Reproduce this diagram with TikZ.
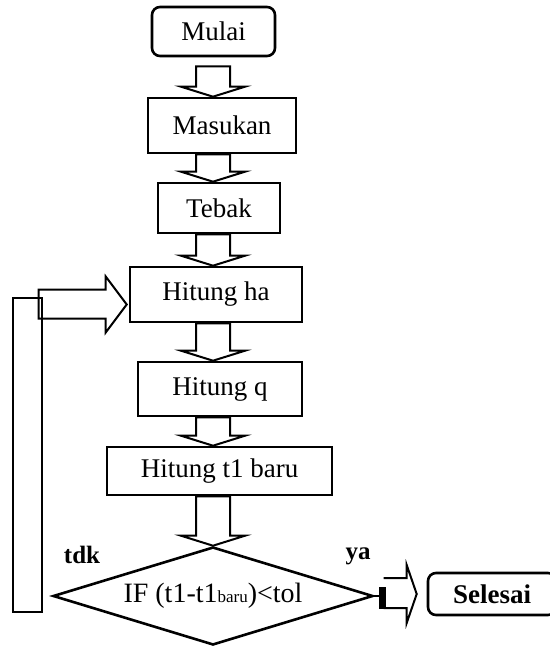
\documentclass[tikz,border=0pt]{standalone}
\usepackage{fontspec}
\setmainfont{Liberation Serif}
\usetikzlibrary{calc,shapes.geometric}

\begin{document}
\begin{tikzpicture}[x=1pt,y=-1pt,
    box/.style={draw,line width=2.6pt,inner sep=0pt,font=\fontsize{27}{30}\selectfont},
    term/.style={box,rounded corners=8pt},
    blk/.style={draw,line width=2pt,line join=miter},
    lbl/.style={font=\bfseries\fontsize{25}{30}\selectfont,inner sep=0pt}]
  \useasboundingbox (0,0) rectangle (549,650);
  \coordinate (col) at (213,0);

  \node[term,minimum width=123,minimum height=49] (start) at (213.5,31.5) {Mulai};
  \node[box,minimum width=148,minimum height=55]  (inp)   at (222,125.5) {Masukan};
  \node[box,minimum width=122,minimum height=50]  (guess) at (219,208)   {Tebak};
  \node[box,minimum width=172,minimum height=55]  (ha)    at (216,294.5) {Hitung ha};
  \node[box,minimum width=164,minimum height=54]  (q)     at (220,389)   {Hitung q};
  \node[box,minimum width=225,minimum height=48]  (tnew)  at (219.5,471) {Hitung t1 baru};
  \node[box,diamond,aspect=3.27,minimum width=320,minimum height=98,font=\fontsize{28}{30}\selectfont] (cond) at (213,596)
       {IF (t1-t1{\fontsize{17}{18}\selectfont baru})<tol};
  \node[term,font=\bfseries\fontsize{27}{30}\selectfont,minimum width=128,minimum height=42] (fin) at (492,594) {Selesai};

  \node[lbl] (no)  at (82,555)  {tdk};
  \node[lbl] (yes) at (358,556) {ya};

  % block arrows down the column
  \foreach \a/\b/\g in {start/inp/9, inp/guess/0, guess/ha/0, ha/q/0, q/tnew/0, tnew/cond/0}
    \draw[blk] ($(\a.south -| col)+(-17,\g)$) -- ($(\b.north -| col)+(-17,-10)$) -- ++(-15,0)
      -- (\b.north -| col) -- ++(32,-10) -- ++(-15,0) -- ($(\a.south -| col)+(17,\g)$) -- cycle;

  % loop back to Hitung ha
  \coordinate (loopL) at (13,298);
  \coordinate (loopR) at (42,612);
  \draw[blk,line width=2.6pt] (loopL) rectangle (loopR);
  \coordinate (tip) at ($(ha.west)+(-2,10)$);
  \draw[blk] ($(tip)+(-88,-15)$) -- ++(67,0) -- ++(0,-13) -- (tip) -- ++(-21,28) -- ++(0,-14)
    -- ++(-67,0) -- cycle;

  % exit to Selesai
  \draw[line width=2pt] (cond.east) -- ++(6,0);
  \fill ($(cond.east)+(5,-9)$) rectangle ++(7,22);
  \coordinate (tip2) at ($(fin.west)+(-10,0)$);
  \draw[blk] ($(tip2)+(-33,-16)$) -- ++(23,0) -- ++(0,-13) -- (tip2) -- ++(-10,29) -- ++(0,-15)
    -- ++(-23,0);
\end{tikzpicture}
\end{document}
